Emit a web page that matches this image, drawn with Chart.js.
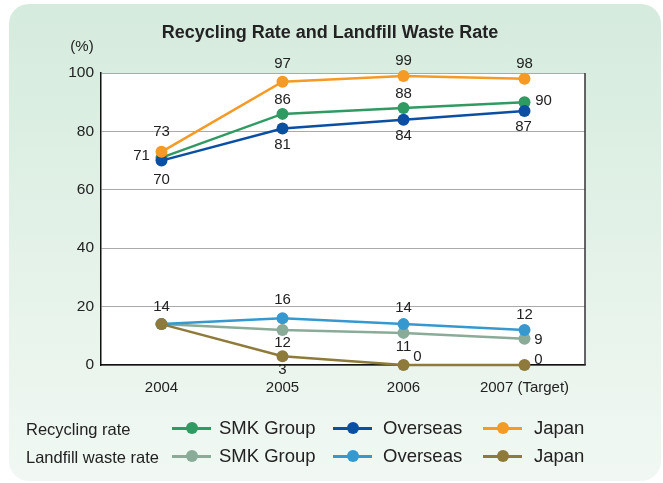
<!DOCTYPE html>
<html><head><meta charset="utf-8">
<script src="https://cdn.jsdelivr.net/npm/chart.js@4"></script>
<style>
html,body{margin:0;padding:0;background:#fff;width:663px;height:483px;overflow:hidden;font-family:"Liberation Sans",Arial,Helvetica,sans-serif;}
#card{position:absolute;left:9px;top:4px;width:652px;height:477px;border-radius:20px;background:linear-gradient(#d5ebdd,#f1f8f3);}
#c{position:absolute;left:0;top:0;}
.lg{position:absolute;font-size:18.5px;color:#222;white-space:nowrap;line-height:20px;}
.lg.row{font-size:16.5px;}
.sym{position:absolute;height:3px;}
.dot{position:absolute;width:12px;height:12px;border-radius:50%;}
</style></head>
<body>
<div id="card"></div>
<canvas id="c" width="663" height="483"></canvas>
<div id="legend"></div>
<script>
// ---- data ----
const categories = ["2004", "2005", "2006", "2007 (Target)"];
const recyclingSMK = [71, 86, 88, 90];
const recyclingOverseas = [70, 81, 84, 87];
const recyclingJapan = [73, 97, 99, 98];
const landfillSMK = [14, 12, 11, 9];
const landfillOverseas = [14, 16, 14, 12];
const landfillJapan = [14, 3, 0, 0];
const yTicks = [0, 20, 40, 60, 80, 100];
const seriesNames = ["SMK Group", "Overseas", "Japan"];
const groupNames = ["Recycling rate", "Landfill waste rate"];

// ---- styles ----
const colors = {
  rSMK: "#2f9a62", rOv: "#0b4fa3", rJp: "#f59a25",
  lSMK: "#8aab98", lOv: "#3599d0", lJp: "#8e7a3a"
};
// label offsets [dx, dy] per point (null = no label)
const labelOffsets = {
  rSMK: [[-20, -2], [0, -14], [0, -14], [19, -1]],
  rOv: [[0, 19], [0, 16], [0, 16], [-1, 16]],
  rJp: [[0, -20], [0, -18], [0, -15], [0, -15]],
  lSMK: [null, [0, 13], [0, 14], [14, 1]],
  lOv: [null, [0, -18], [0, -16], [0, -15]],
  lJp: [[0, -17], [0, 14], [14, -8], [14, -5]]
};

const FONT = '"Liberation Sans", Arial, Helvetica, sans-serif';

function ds(key, label, data, order) {
  return {
    key, label, data, order,
    borderColor: colors[key], backgroundColor: colors[key],
    pointBackgroundColor: colors[key], pointBorderWidth: 0,
    borderWidth: 2.5, pointRadius: 6, pointHoverRadius: 6,
    tension: 0, clip: false
  };
}

const datasets = [
  ds("lJp", "Landfill Japan", landfillJapan, 1),
  ds("lOv", "Landfill Overseas", landfillOverseas, 2),
  ds("lSMK", "Landfill SMK Group", landfillSMK, 3),
  ds("rJp", "Recycling Japan", recyclingJapan, 4),
  ds("rOv", "Recycling Overseas", recyclingOverseas, 5),
  ds("rSMK", "Recycling SMK Group", recyclingSMK, 6)
];

const decor = {
  id: "decor",
  beforeDraw(chart) {
    const { ctx, chartArea: a } = chart;
    ctx.save();
    ctx.fillStyle = "#fff";
    ctx.fillRect(a.left, a.top, a.right - a.left, a.bottom - a.top);
    ctx.restore();
  },
  afterDraw(chart) {
    const { ctx, chartArea: a } = chart;
    ctx.save();
    ctx.strokeStyle = "#333";
    ctx.lineWidth = 1.5;
    ctx.beginPath();
    ctx.moveTo(a.right, a.top);
    ctx.lineTo(a.right, a.bottom);
    ctx.stroke();
    ctx.fillStyle = "#222";
    ctx.font = "bold 18px " + FONT;
    ctx.textAlign = "center";
    ctx.textBaseline = "middle";
    ctx.fillText("Recycling Rate and Landfill Waste Rate", 330, 33);
    ctx.font = "15px " + FONT;
    ctx.fillText("(%)", 82, 47);
    ctx.restore();
  }
};

const labels = {
  id: "pointLabels",
  afterDatasetsDraw(chart) {
    const { ctx } = chart;
    ctx.save();
    ctx.font = "15px " + FONT;
    ctx.fillStyle = "#222";
    ctx.textAlign = "center";
    ctx.textBaseline = "middle";
    chart.data.datasets.forEach((d, i) => {
      const meta = chart.getDatasetMeta(i);
      meta.data.forEach((pt, j) => {
        const off = labelOffsets[d.key][j];
        if (!off) return;
        ctx.fillText(String(d.data[j]), pt.x + off[0], pt.y + off[1]);
      });
    });
    ctx.restore();
  }
};

new Chart(document.getElementById("c"), {
  type: "line",
  data: { labels: categories, datasets },
  options: {
    responsive: false, animation: false,
    layout: { padding: { left: 51, right: 78, top: 73, bottom: 88 } },
    plugins: { legend: { display: false }, tooltip: { enabled: false }, title: { display: false } },
    scales: {
      x: {
        offset: true,
        grid: { display: false, drawTicks: false },
        border: { display: true, color: "#111", width: 1.5 },
        ticks: { padding: 14, color: "#222", font: { size: 15, family: FONT } },
        afterFit(s) { s.height = 30; }
      },
      y: {
        min: 0, max: 100,
        afterBuildTicks(s) { s.ticks = yTicks.map(v => ({ value: v })); },
        grid: { color: "#aaa", lineWidth: 1, drawTicks: false },
        border: { display: true, color: "#111", width: 1.5 },
        ticks: { padding: 7, color: "#222", font: { size: 15.5, family: FONT } },
        afterFit(s) { s.width = 50; }
      }
    }
  },
  plugins: [decor, labels]
});

// ---- HTML legend ----
const legend = document.getElementById("legend");
const rows = [
  { name: groupNames[0], keys: ["rSMK", "rOv", "rJp"], y: 428 },
  { name: groupNames[1], keys: ["lSMK", "lOv", "lJp"], y: 456 }
];
const symX = [172, 333, 483];
const txtX = [219, 383, 534];
rows.forEach(r => {
  const t = document.createElement("div");
  t.className = "lg row"; t.textContent = r.name;
  t.style.left = "26px"; t.style.top = (r.y - 9) + "px";
  legend.appendChild(t);
  r.keys.forEach((k, i) => {
    const line = document.createElement("div");
    line.className = "sym"; line.style.background = colors[k];
    line.style.left = symX[i] + "px"; line.style.width = "39px"; line.style.top = (r.y - 1.5) + "px";
    legend.appendChild(line);
    const dot = document.createElement("div");
    dot.className = "dot"; dot.style.background = colors[k];
    dot.style.left = (symX[i] + 19.5 - 6) + "px"; dot.style.top = (r.y - 6) + "px";
    legend.appendChild(dot);
    const tx = document.createElement("div");
    tx.className = "lg"; tx.textContent = seriesNames[i];
    tx.style.left = txtX[i] + "px"; tx.style.top = (r.y - 10) + "px";
    legend.appendChild(tx);
  });
});
</script>
</body></html>
